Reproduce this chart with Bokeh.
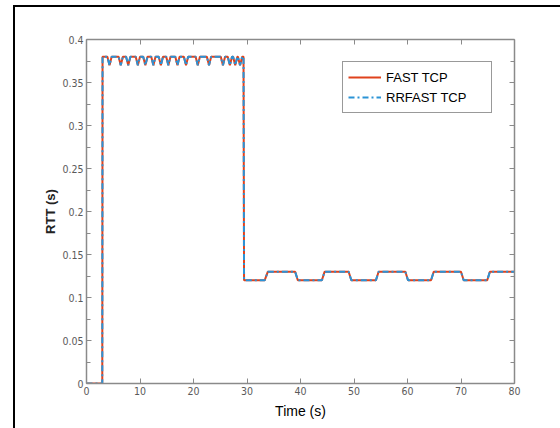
from bokeh.plotting import figure
from bokeh.models import Range1d, LinearAxis, FixedTicker, Legend, LegendItem, GlobalInlineStyleSheet
from bokeh.embed import file_html
from bokeh.resources import INLINE

# ---- data ----
fast_time = [0, 2.95, 3.0, 3.9, 4.3, 4.7, 6.0, 6.4, 6.8, 7.4, 7.8, 8.2, 9.2, 9.6, 10.0,
             10.6, 11.0, 11.4, 12.1, 12.5, 12.9, 13.5, 13.9, 14.3, 14.9, 15.3, 15.7,
             16.6, 17.0, 17.4, 18.2, 18.6, 19.0, 20.4, 20.8, 21.2, 22.5, 22.9, 23.3,
             25.1, 25.5, 25.9, 26.4, 26.8, 27.2, 27.4, 27.8, 28.2, 28.3, 28.7, 29.1,
             29.35, 29.45, 33.3, 33.9, 39.0, 39.5, 44.0, 44.5, 49.0, 49.5, 54.1, 54.6,
             59.6, 60.1, 64.4, 64.9, 70.0, 70.5, 74.9, 75.4, 80.0]
fast_rtt = [0, 0, 0.38, 0.38, 0.37, 0.38, 0.38, 0.37, 0.38, 0.38, 0.37, 0.38, 0.38, 0.37, 0.38,
            0.38, 0.37, 0.38, 0.38, 0.37, 0.38, 0.38, 0.37, 0.38, 0.38, 0.37, 0.38,
            0.38, 0.37, 0.38, 0.38, 0.37, 0.38, 0.38, 0.37, 0.38, 0.38, 0.37, 0.38,
            0.38, 0.37, 0.38, 0.38, 0.37, 0.38, 0.38, 0.37, 0.38, 0.38, 0.37, 0.38,
            0.38, 0.12, 0.12, 0.13, 0.13, 0.12, 0.12, 0.13, 0.13, 0.12, 0.12, 0.13,
            0.13, 0.12, 0.12, 0.13, 0.13, 0.12, 0.12, 0.13, 0.13]
rrfast_time = list(fast_time)
rrfast_rtt = list(fast_rtt)

series_names = ["FAST TCP", "RRFAST TCP"]
x_ticks = [0, 10, 20, 30, 40, 50, 60, 70, 80]
y_ticks = [0, 0.05, 0.1, 0.15, 0.2, 0.25, 0.3, 0.35, 0.4]
y_tick_labels = ["0", "0.05", "0.1", "0.15", "0.2", "0.25", "0.3", "0.35", "0.4"]
y_minor = [0.025, 0.075, 0.125, 0.175, 0.225, 0.275, 0.325, 0.375]

RED = "#e0421c"
BLUE = "#2b93d6"
AX = "#8a8a8a"
TICKFONT = "DejaVu Sans Condensed"

p = figure(width=560, height=428, output_backend="svg", toolbar_location=None,
           x_range=Range1d(0, 80), y_range=Range1d(0, 0.4),
           min_border_left=86, min_border_right=46, min_border_top=39, min_border_bottom=45,
           background_fill_color="white", border_fill_alpha=0)
# outer picture frame (left and top edges only, as in the cropped reference), on the page body
p.stylesheets = [GlobalInlineStyleSheet(css=(
    "html, body { margin: 0; padding: 0; overflow: hidden; "
    "background: linear-gradient(#000, #000) 13px 5px / 2px 1000px no-repeat, "
    "linear-gradient(#000, #000) 13px 5px / 1000px 2px no-repeat, #ffffff; }"
))]
p.outline_line_color = None
p.xgrid.grid_line_color = None
p.ygrid.grid_line_color = None

bottom = p.xaxis[0]
left = p.yaxis[0]
bottom.ticker = FixedTicker(ticks=x_ticks)
left.ticker = FixedTicker(ticks=y_ticks, minor_ticks=y_minor)
left.major_label_overrides = {t: s for t, s in zip(y_ticks, y_tick_labels)}

top = LinearAxis(ticker=FixedTicker(ticks=x_ticks))
right = LinearAxis(ticker=FixedTicker(ticks=y_ticks, minor_ticks=y_minor))
p.add_layout(top, "above")
p.add_layout(right, "right")

for ax in [bottom, left, top, right]:
    ax.axis_line_color = AX
    ax.axis_line_width = 1.5
    ax.major_tick_line_color = AX
    ax.minor_tick_line_color = AX
    ax.major_tick_in = 5
    ax.major_tick_out = 0
    ax.minor_tick_in = 4
    ax.minor_tick_out = 0
    ax.major_label_text_font = TICKFONT
    ax.major_label_text_font_size = "10.5px"
    ax.major_label_text_color = "#5a5a5a"
    ax.major_label_standoff = 3
for ax in [top, right]:
    ax.major_label_text_alpha = 0
    ax.major_label_text_font_size = "1px"
    ax.major_label_standoff = 0
bottom.minor_tick_line_color = None
top.minor_tick_line_color = None

bottom.axis_label = "Time (s)"
bottom.axis_label_text_font = "Liberation Sans"
bottom.axis_label_text_font_style = "normal"
bottom.axis_label_text_font_size = "14px"
bottom.axis_label_text_color = "black"
bottom.axis_label_standoff = 5

left.axis_label = "RTT (s)"
left.axis_label_text_font = "Liberation Sans"
left.axis_label_text_font_style = "bold"
left.axis_label_text_font_size = "13px"
left.axis_label_text_color = "#222222"
left.axis_label_standoff = 1

r1 = p.line(fast_time, fast_rtt, line_color=RED, line_width=2)
r2 = p.line(rrfast_time, rrfast_rtt, line_color=BLUE, line_width=2, line_dash="6 3 2 3")

legend = Legend(items=[LegendItem(label=series_names[0], renderers=[r1]),
                       LegendItem(label=series_names[1], renderers=[r2])],
                location=(256, 270))
legend.border_line_color = "#333333"
legend.border_line_width = 1
legend.background_fill_color = "white"
legend.background_fill_alpha = 1
legend.label_text_font = "Liberation Sans"
legend.label_text_font_size = "13px"
legend.label_text_color = "black"
legend.glyph_width = 33
legend.glyph_height = 20
legend.label_height = 20
legend.label_width = 100
legend.label_standoff = 5
legend.spacing = 0
legend.padding = 5
legend.margin = 0
p.add_layout(legend, "center")

open("out.html", "w").write(file_html(p, INLINE))
